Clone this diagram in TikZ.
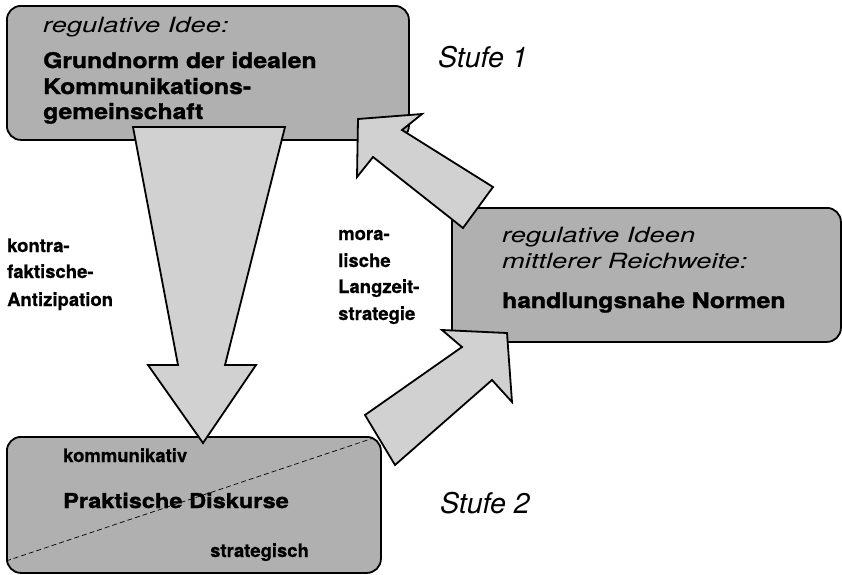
\documentclass[tikz,border=0pt]{standalone}
\usepackage{fontspec}
\setmainfont{TeX Gyre Heros}
\newfontfamily\wideit{TeX Gyre Heros}[FakeStretch=1.3]
\newfontfamily\widebf{TeX Gyre Heros}[FakeStretch=1.15, FakeBold=1.4]
\newfontfamily\sidebf{TeX Gyre Heros}[FakeBold=0.6]
\definecolor{boxgray}{gray}{0.69}
\definecolor{arrowgray}{gray}{0.82}
\tikzset{
  stage/.style={draw=black, fill=boxgray, line width=1.8pt, rounded corners=14pt,
    rectangle, anchor=north west, inner sep=0pt},
  bigarrow/.style={draw=black, fill=arrowgray, line width=1.8pt, line join=miter},
  lbl/.style={inner sep=0pt, anchor=base west},
  headit/.style={lbl, font=\wideit\itshape\fontsize{21}{25}\selectfont},
  headbf/.style={lbl, font=\widebf\bfseries\fontsize{21.5}{26}\selectfont},
  stufe/.style={lbl, font=\itshape\fontsize{28.5}{32}\selectfont},
  side/.style={lbl, font=\sidebf\bfseries\fontsize{18.5}{22}\selectfont},
}
\begin{document}
\begin{tikzpicture}[x=1pt, y=-1pt]
\useasboundingbox (0,0) rectangle (842,574);

% the three levels
\node[stage, minimum width=402pt, minimum height=134pt] (ideal) at (6,5) {};
\node[stage, minimum width=389pt, minimum height=134pt] (mid) at (451,207) {};
\node[stage, minimum width=374pt, minimum height=136pt] (prax) at (6,436) {};

% texts of the upper box
\node[headit] (t1) at (43,32) {regulative Idee:};
\node[headbf] (t2) at (43,68) {Grundnorm der idealen};
\node[headbf] (t3) at (43,94) {Kommunikations-};
\node[headbf] (t4) at (43,119) {gemeinschaft};

% texts of the middle box
\node[headit] (m1) at (502,242) {regulative Ideen};
\node[headit] (m2) at (502,268) {mittlerer Reichweite:};
\node[headbf] (m3) at (502,308) {handlungsnahe Normen};

% texts of the lower box
\node[side] (p1) at (63,462) {kommunikativ};
\node[headbf, font=\widebf\bfseries\fontsize{20.5}{24}\selectfont] (p2) at (63,508) {Praktische Diskurse};
\node[side] (p3) at (210,557) {strategisch};

% split between communicative and strategic action
\begin{scope}
  \clip[rounded corners=14pt] (6,436) rectangle (380,572);
  \draw[line width=0.7pt, dash pattern=on 5pt off 3pt] (6,561) -- (378,436.5);
\end{scope}

% level labels
\node[stufe] (s1) at (438,67) {Stufe 1};
\node[stufe] (s2) at (440,513) {Stufe 2};

% side labels
\node[side] (k1) at (7,252) {kontra-};
\node[side] (k2) at (7,278) {faktische-};
\node[side] (k3) at (7,306) {Antizipation};
\node[side] (l1) at (338,240) {mora-};
\node[side] (l2) at (338,267) {lische};
\node[side] (l3) at (338,293) {Langzeit-};
\node[side] (l4) at (338,320) {strategie};

% broad arrows between the levels
\draw[bigarrow] (133,127) -- (285,127) -- (225,365) -- (256,365) -- (203,443)
  -- (148,365) -- (178,365) -- cycle;
\draw[bigarrow] (358,119) -- (422,114) -- (402,130) -- (493,187) -- (463,228)
  -- (373,157) -- (357,177) -- cycle;
\draw[bigarrow] (365,415) -- (462,347) -- (442,330) -- (507,333) -- (512,402)
  -- (492,380) -- (395,465) -- cycle;
\end{tikzpicture}
\end{document}
